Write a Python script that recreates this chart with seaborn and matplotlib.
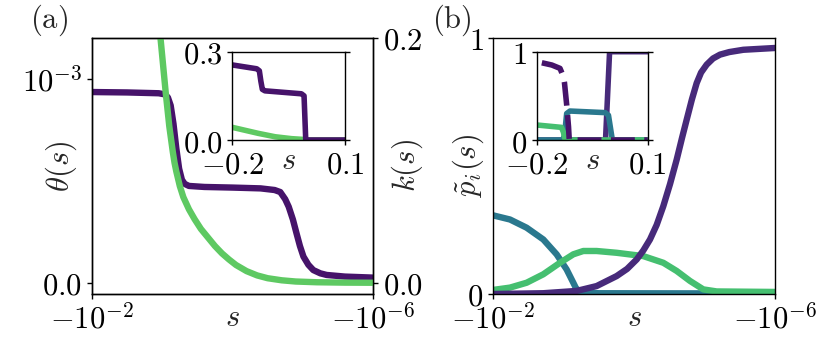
import numpy as np
import matplotlib
matplotlib.use("Agg")
import matplotlib.pyplot as plt
from matplotlib.ticker import NullLocator
import seaborn as sns

sns.set_style("ticks")
plt.rcParams.update({
    "mathtext.fontset": "cm",
    "font.family": ["DejaVu Serif"],
    "font.size": 22,
    "axes.linewidth": 1.0,
    "xtick.major.size": 3.5,
    "ytick.major.size": 3.5,
    "xtick.major.width": 1.0,
    "ytick.major.width": 1.0,
    "xtick.direction": "out",
    "ytick.direction": "out",
    "xtick.color": "black",
    "ytick.color": "black",
    "axes.edgecolor": "black",
})

# ---------------- data ----------------
# panel (a), main: x given as exponent e, s = -10**e
a_theta_exp = [-2.0, -2.5, -2.95, -3.03, -3.08, -3.12, -3.16, -3.2, -3.24, -3.28, -3.32, -3.38,
               -3.6, -4.0, -4.4, -4.6, -4.68, -4.75, -4.8, -4.86, -4.91, -4.96, -5.01, -5.08,
               -5.15, -5.25, -5.34, -5.6, -6.0]
a_theta_val = [0.936e-3, 0.934e-3, 0.93e-3, 0.925e-3, 0.91e-3, 0.87e-3, 0.78e-3, 0.66e-3, 0.56e-3,
               0.505e-3, 0.485e-3, 0.475e-3, 0.47e-3, 0.467e-3, 0.463e-3, 0.455e-3, 0.445e-3,
               0.41e-3, 0.373e-3, 0.31e-3, 0.244e-3, 0.18e-3, 0.128e-3, 0.088e-3, 0.062e-3,
               0.046e-3, 0.038e-3, 0.03e-3, 0.025e-3]
a_k_exp = [-2.85, -2.9, -2.95, -3.0, -3.05, -3.1, -3.15, -3.175, -3.2, -3.225, -3.25, -3.275,
           -3.3, -3.34, -3.38, -3.42, -3.46, -3.55, -3.65, -3.75, -3.85, -3.95, -4.05, -4.2,
           -4.35, -4.5, -4.7, -4.9, -5.2, -5.6, -6.0]
a_k_val = [0.29, 0.25, 0.215, 0.185, 0.155, 0.128, 0.107, 0.098, 0.091, 0.085, 0.079, 0.0745,
           0.070, 0.065, 0.060, 0.056, 0.052, 0.044, 0.037, 0.030, 0.024, 0.019, 0.0145,
           0.0095, 0.006, 0.0037, 0.002, 0.001, 0.0004, 0.0001, 0.0]

# panel (a), inset
ai_theta_s = [-0.2, -0.135, -0.128, -0.124, -0.12, -0.113, -0.016, -0.009, -0.0045, 0.1]
ai_theta_v = [0.255, 0.242, 0.235, 0.2, 0.172, 0.167, 0.157, 0.15, 0.0, 0.0]
ai_k_s = [-0.2, -0.131, -0.086, -0.042, -0.011, -0.005, 0.1]
ai_k_v = [0.043, 0.0226, 0.011, 0.0045, 0.002, 0.0, 0.0]

# panel (b), main
b_p1_exp = [-2.0, -2.71, -3.183, -3.467, -3.751, -3.9, -4.036, -4.13, -4.225, -4.32, -4.414,
            -4.51, -4.604, -4.68, -4.746, -4.82, -4.888, -4.95, -5.03, -5.12, -5.219, -5.35,
            -5.55, -6.0]
b_p1_val = [0.0, 0.003, 0.012, 0.031, 0.07, 0.098, 0.135, 0.17, 0.213, 0.27, 0.343, 0.43,
            0.525, 0.61, 0.681, 0.76, 0.824, 0.865, 0.896, 0.92, 0.935, 0.945, 0.954, 0.961]
b_p2_exp = [-2.0, -2.237, -2.473, -2.71, -2.899, -3.041, -3.136, -3.17, -3.207, -3.278, -3.5, -6.0]
b_p2_val = [0.307, 0.291, 0.259, 0.213, 0.155, 0.096, 0.044, 0.025, 0.012, 0.005, 0.003, 0.002]
b_p3_exp = [-2.0, -2.237, -2.473, -2.71, -2.947, -3.136, -3.278, -3.467, -3.751, -4.13,
            -4.414, -4.604, -4.793, -4.982, -5.172, -6.0]
b_p3_val = [0.016, 0.025, 0.044, 0.077, 0.122, 0.155, 0.168, 0.168, 0.161, 0.148, 0.122,
            0.09, 0.051, 0.018, 0.01, 0.008]

# panel (b), inset
bi_p1_s = [-0.2, -0.014, -0.003, 0.1]
bi_p1_v = [0.0, 0.0, 1.0, 1.0]
bi_p2_s = [-0.2, -0.13, -0.125, -0.119, -0.11, -0.015, -0.006, 0.0045, 0.1]
bi_p2_v = [0.0, 0.0, 0.05, 0.30, 0.328, 0.31, 0.28, 0.0, 0.0]
bi_p3_s = [-0.2, -0.133, -0.128, -0.123, 0.1]
bi_p3_v = [0.17, 0.143, 0.09, 0.0, 0.0]
bi_p4_s = [-0.2, -0.1865, -0.159, -0.137, -0.128, -0.125, -0.119, -0.114, -0.112, 0.1]
bi_p4_v = [0.885, 0.875, 0.849, 0.811, 0.72, 0.65, 0.4, 0.15, 0.0, 0.0]

xtick_vals = [-1e-2, -1e-6]
xtick_labels = [r"$-10^{-2}$", r"$-10^{-6}$"]
inset_xticks = [-0.2, 0.1]
inset_xtick_labels = [r"$-0.2$", r"$0.1$"]

# colours
PURPLE_A = "#46136a"
PURPLE_B = "#472a7a"
TEAL = "#2a788e"
GREEN_A = "#5ec962"
GREEN_B = "#45bf70"

W, H = 831, 341
fig = plt.figure(figsize=(W / 100, H / 100), dpi=100)


def fx(px):
    return px / W


def fy(py):
    return 1 - py / H


def s_of(exps):
    return -np.power(10.0, np.array(exps))


LW = 4.6
LWI = 4.0


def line(ax, x, y, color, lw, **kw):
    sns.lineplot(x=np.asarray(x), y=np.asarray(y), ax=ax, color=color, lw=lw,
                 sort=False, estimator=None, **kw)


def setup_main_x(ax):
    ax.set_xscale("symlog", linthresh=1e-9)
    ax.set_xlim(-1e-2, -1e-6)
    ax.set_xticks(xtick_vals)
    ax.set_xticklabels(xtick_labels)
    ax.xaxis.set_minor_locator(NullLocator())
    ax.set_xlabel(r"$s$")
    ax.xaxis.set_label_coords(0.5, -0.03)


def setup_inset(ax):
    ax.set_xlim(-0.2, 0.1)
    ax.set_xticks(inset_xticks)
    ax.set_xticklabels(inset_xtick_labels)
    ax.set_xlabel(r"$s$")
    ax.xaxis.set_label_coords(0.5, -0.06)
    ax.tick_params(right=True, which="both")
    ax.set_facecolor("white")


# ---------- panel (a) ----------
axa = fig.add_axes([fx(92), fy(294), fx(281), (294 - 38) / H])
line(axa, s_of(a_theta_exp), a_theta_val, PURPLE_A, LW)
axa.set_ylim(-0.0555e-3, 1.2013e-3)
axa.set_yticks([0, 1e-3])
axa.set_yticklabels([r"$0.0$", r"$10^{-3}$"])
axa.set_ylabel(r"$\theta(s)$")
axa.yaxis.set_label_coords(-0.045, 0.5)
setup_main_x(axa)

axa2 = axa.twinx()
line(axa2, s_of(a_k_exp), a_k_val, GREEN_A, LW)
axa2.set_ylim(-0.0092, 0.2)
axa2.set_yticks([0, 0.2])
axa2.set_yticklabels([r"$0.0$", r"$0.2$"])
axa2.set_ylabel(r"$k(s)$")
axa2.yaxis.set_label_coords(1.06, 0.5)
axa2.xaxis.set_minor_locator(NullLocator())

axai = fig.add_axes([fx(232.3), fy(140), fx(345 - 232.3), (140 - 51.7) / H])
line(axai, ai_k_s, ai_k_v, GREEN_A, LWI)
line(axai, ai_theta_s, ai_theta_v, PURPLE_A, LWI)
axai.set_ylim(0, 0.3)
axai.set_yticks([0, 0.3])
axai.set_yticklabels([r"$0.0$", r"$0.3$"])
axai.set_ylabel("")
setup_inset(axai)

# ---------- panel (b) ----------
axb = fig.add_axes([fx(493.3), fy(294), fx(281.7), (294 - 38) / H])
line(axb, s_of(b_p2_exp), b_p2_val, TEAL, LW)
line(axb, s_of(b_p3_exp), b_p3_val, GREEN_B, LW)
line(axb, s_of(b_p1_exp), b_p1_val, PURPLE_B, LW)
axb.set_ylim(0, 1)
axb.set_yticks([0, 1])
axb.set_yticklabels([r"$0$", r"$1$"])
axb.set_ylabel(r"$\tilde{p}_i(s)$")
axb.yaxis.set_label_coords(-0.025, 0.5)
setup_main_x(axb)

axbi = fig.add_axes([fx(536.7), fy(140), fx(647.7 - 536.7), (140 - 51.7) / H])
line(axbi, bi_p1_s, bi_p1_v, PURPLE_B, LWI)
line(axbi, bi_p2_s, bi_p2_v, TEAL, LWI)
line(axbi, bi_p3_s, bi_p3_v, GREEN_B, LWI)
line(axbi, bi_p4_s, bi_p4_v, PURPLE_A, LWI, linestyle=(5.06, (4.3, 1.7)))
axbi.set_ylim(0, 1)
axbi.set_yticks([0, 1])
axbi.set_yticklabels([r"$0$", r"$1$"])
axbi.set_ylabel("")
setup_inset(axbi)

fig.text(fx(49.5), fy(20), r"$\mathrm{(a)}$", ha="center", va="center", fontsize=22)
fig.text(fx(451.5), fy(20), r"$\mathrm{(b)}$", ha="center", va="center", fontsize=22)

fig.savefig("out.png", dpi=100)
